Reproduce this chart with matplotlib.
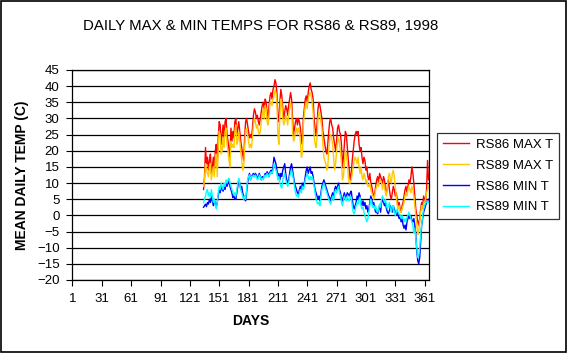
import matplotlib
matplotlib.use("Agg")
import matplotlib.pyplot as plt
from matplotlib.patches import Rectangle

# day numbers 135..365 (the stations only report from mid-May on)
days = list(range(135, 366))

rs86_max = [
    8, 12, 21, 16, 18, 14, 17, 19, 13, 15,
    18, 14, 20, 22, 15, 24, 29, 28, 22, 25,
    28, 24, 29, 30, 25, 23, 20, 18, 27, 23,
    26, 24, 29, 30, 25, 27, 29, 26, 23, 21,
    19, 17, 24, 29, 30, 28, 26, 24, 25, 24,
    27, 31, 33, 32, 30, 31, 29, 28, 30, 32,
    34, 35, 33, 36, 35, 32, 30, 34, 37, 38,
    36, 39, 40, 42, 41, 38, 30, 29, 35, 39,
    37, 33, 30, 32, 34, 33, 31, 34, 36, 38,
    36, 30, 25, 27, 29, 30, 28, 30, 29, 27,
    24, 22, 30, 33, 36, 37, 35, 38, 40, 41,
    39, 38, 36, 30, 27, 25, 28, 33, 35, 34,
    32, 30, 26, 24, 22, 20, 19, 22, 26, 29,
    30, 28, 27, 24, 22, 20, 23, 27, 28, 26,
    25, 22, 15, 18, 22, 26, 25, 21, 17, 14,
    11, 13, 17, 20, 23, 25, 26, 25, 26, 22,
    20, 21, 18, 16, 18, 17, 14, 15, 12, 11,
    13, 10, 9, 7, 6, 7, 9, 11, 12, 10,
    13, 12, 11, 10, 12, 11, 8, 7, 9, 11,
    8, 6, 5, 7, 9, 8, 6, 7, 5, 3,
    4, 2, 1, 3, 4, 6, 8, 9, 7, 9,
    11, 10, 12, 15, 13, 10, 6, 2, 0, -2,
    -3, -1, 2, 4, 3, 6, 5, 4, 8, 17,
    11,
]

rs89_max = [
    9, 11, 16, 14, 13, 12, 15, 16, 11, 13,
    15, 12, 17, 19, 12, 21, 26, 25, 19, 20,
    24, 21, 26, 27, 22, 20, 17, 15, 23, 21,
    22, 21, 26, 28, 22, 23, 26, 23, 20, 17,
    14, 15, 21, 26, 27, 25, 23, 21, 22, 21,
    24, 28, 30, 29, 27, 28, 26, 25, 26, 29,
    31, 33, 30, 34, 33, 29, 28, 31, 35, 35,
    34, 36, 37, 39, 38, 35, 25, 22, 31, 36,
    35, 30, 28, 29, 31, 30, 28, 31, 33, 35,
    33, 26, 23, 24, 26, 27, 25, 27, 26, 23,
    18, 19, 28, 31, 34, 35, 33, 36, 37, 38,
    37, 35, 32, 25, 22, 21, 24, 30, 32, 31,
    29, 27, 22, 18, 17, 16, 14, 15, 20, 24,
    25, 24, 22, 18, 14, 16, 20, 23, 24, 22,
    20, 16, 11, 12, 16, 20, 19, 16, 12, 10,
    10, 11, 13, 15, 17, 18, 17, 16, 18, 15,
    13, 15, 12, 11, 13, 12, 10, 11, 9, 9,
    10, 8, 7, 6, 5, 6, 8, 9, 10, 9,
    11, 11, 10, 8, 10, 9, 7, 6, 9, 12,
    13, 11, 10, 13, 14, 12, 9, 6, 3, 2,
    3, 1, 1, 2, 3, 4, 6, 7, 6, 8,
    9, 8, 7, 9, 8, 6, 3, 0, -3, -6,
    -5, -2, 1, 3, 2, 4, 4, 5, 7, 8,
    9,
]

rs86_min = [
    2.5, 3, 3.5, 2.7, 4, 3.5, 5, 4, 6, 4.5,
    3, 5, 3.5, 2.5, 4, 6, 8, 7, 9, 8,
    7.5, 9, 8, 10, 9, 10, 11, 9, 8, 7,
    5.5, 6, 5, 5, 7, 9, 11, 10, 8, 9,
    7, 6, 5, 4.5, 7, 10, 12, 13, 11, 12,
    12.5, 13, 12, 13, 12.5, 11.5, 12, 13, 12, 11,
    12, 11.5, 12, 13, 12.5, 13.5, 13, 12, 13.5, 14,
    13, 15, 18, 17, 16, 14, 12, 13, 11, 13,
    12, 14, 15, 16, 13, 11, 10, 11, 13, 15,
    16, 14, 12, 10, 9, 8, 7, 6.5, 8, 9,
    8, 10, 9, 10, 12, 14, 15, 13, 14, 15,
    13, 13.5, 12, 10, 8, 7, 6, 5, 6, 4.5,
    7, 9, 10, 11, 10, 9, 8, 7, 6, 5.5,
    4.5, 6, 7, 5, 8, 9, 8, 9, 10, 8,
    7, 5, 4.5, 6, 7, 5.5, 6, 7, 6.5, 6,
    7, 7.5, 5, 3, 2, 3, 4, 6, 5, 7,
    6, 4, 3, 4.5, 3, 4, 2, 3, 1, 2,
    4, 6, 5, 3, 4, 2, 1, 1, 0.5, 2,
    3, 1, 4, 5, 4, 3, 4, 2, 1, 0.5,
    1.5, 3, 2, 1, 3, 2, 1, 0, 1, 0,
    -1, -0.5, -2, -1, -3, -4, -3, -4.5, -2, -1,
    0, -1, 0, -1.5, -2, -1, -3, -6, -11, -14,
    -15, -13, -8, -3, -1, 1, 2, 3, 4, 4.5,
    5,
]

rs89_min = [
    4, 5, 6, 7.5, 8, 6, 7, 5.5, 8, 6,
    4, 5, 3, 2, 4, 7, 9, 8, 10, 9,
    8, 10, 9, 11, 10, 11, 11.5, 10, 9, 8,
    7, 6.5, 7, 6, 8, 10, 11.5, 10, 8, 7,
    6, 5, 6, 5, 8, 11, 12, 12.5, 11, 12,
    12, 12.5, 12, 12.5, 12, 11, 11.5, 12.5, 12, 11,
    11.5, 11, 12, 12.5, 12, 13, 12.5, 12, 13, 13.5,
    13, 14, 16, 15, 14, 13, 11, 12, 10, 9,
    8.5, 11, 12, 13, 11, 10, 9, 10, 12, 13,
    14, 12.5, 11, 9, 7, 6, 6.5, 5.5, 7, 8,
    7, 9, 8, 9, 11, 12, 13, 12, 11, 12,
    11, 12, 11, 9, 7, 5, 4, 3.5, 4, 3,
    6, 8, 9, 10, 9, 8, 7, 6, 5, 4,
    3.5, 5, 6, 4.5, 7, 8, 7, 8, 9, 7,
    6, 4, 3, 4.5, 6, 5, 4.5, 6, 5, 4.5,
    6, 5.5, 3, 1, 0.5, 1.5, 3, 4, 3.5, 5,
    5.5, 3, 2, 2.5, 1, 0, -1, -2, -1, 1,
    3, 5, 4, 2.5, 3, 2, 3, 1.5, 1, 2,
    3.5, 2.5, 5, 6, 5, 4, 5, 3, 2, 3,
    4, 2, 1, 2.5, 3, 1, 0, 1, 2, 1,
    0.5, 0, -1, 0, -1, -2, -1, -2, -0.5, 0,
    1, 0, -1, -2, -3, -5.5, -4, -7, -10, -13,
    -12.5, -10, -5.5, -3, 0, 2, 3, 4, 4, 4.5,
    4,
]

series_names = ["RS86 MAX T", "RS89 MAX T", "RS86 MIN T", "RS89 MIN T"]
series_colors = ["#ff0000", "#ffc800", "#0000ff", "#00ffff"]

xtick_days = [1, 31, 61, 91, 121, 151, 181, 211, 241, 271, 301, 331, 361]
yticks = list(range(-20, 50, 5))

plt.rcParams["font.family"] = ["Liberation Sans", "DejaVu Sans"]

fig = plt.figure(figsize=(5.67, 3.53), dpi=100)
ax = fig.add_axes([72 / 567, 1 - 280 / 353, 357 / 567, 210 / 353])

for vals, name, col in zip([rs86_max, rs89_max, rs86_min, rs89_min],
                           series_names, series_colors):
    ax.plot(days, vals, color=col, lw=1.0, label=name)

ax.set_xlim(0.5, 365.5)
ax.set_ylim(-20, 45)
ax.set_yticks(yticks)
ax.set_xticks(xtick_days)
ax.set_xticklabels([str(d) for d in xtick_days])
ax.grid(axis="y", color="black", lw=0.9)
ax.set_axisbelow(True)
ax.tick_params(direction="out", length=4, width=0.8, labelsize=9.5, pad=5)
for sp in ax.spines.values():
    sp.set_linewidth(0.9)

ax.set_xlabel("DAYS", fontsize=10, fontweight="bold", labelpad=7)
ax.set_ylabel("MEAN DAILY TEMP (C)", fontsize=10, fontweight="bold", labelpad=6)

fig.text(261 / 567, 1 - 26 / 353, "DAILY MAX & MIN TEMPS FOR RS86 & RS89, 1998",
         ha="center", va="center", fontsize=10.8)

leg = fig.legend(loc="center", bbox_to_anchor=(498 / 567, 1 - 176 / 353),
                 frameon=True, fancybox=False, fontsize=9.5, handlelength=2.0,
                 handletextpad=0.5, labelspacing=0.65, borderpad=0.45)
leg.get_frame().set_edgecolor("black")
leg.get_frame().set_linewidth(0.9)

fig.patches.append(Rectangle((0.001, 0.002), 0.997, 0.996, transform=fig.transFigure,
                             fill=False, edgecolor="black", lw=1.2))

fig.savefig("out.png", dpi=100)
